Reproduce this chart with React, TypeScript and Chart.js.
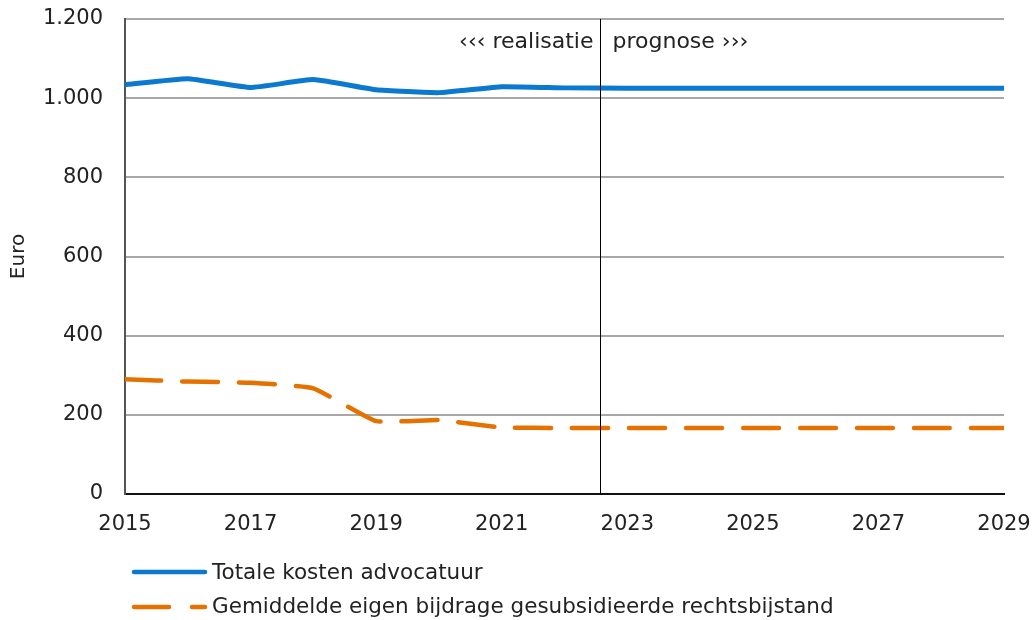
import React, { useEffect, useRef } from "react";
import { Chart, registerables } from "chart.js";

Chart.register(...registerables);

const years = [2015, 2016, 2017, 2018, 2019, 2020, 2021, 2022, 2023, 2024, 2025, 2026, 2027, 2028, 2029];
const totaleKosten = [1034, 1049, 1027, 1047, 1021, 1014, 1029, 1026, 1025, 1025, 1025, 1025, 1025, 1025, 1025];
const eigenBijdrage = [290, 284, 281, 267, 184, 187, 168, 167, 167, 167, 167, 167, 167, 167, 167];
const seriesLabels = ["Totale kosten advocatuur", "Gemiddelde eigen bijdrage gesubsidieerde rechtsbijstand"];
const dividerYear = 2022.56;
const leftNote = "\u2039\u2039\u2039 realisatie";
const rightNote = "prognose \u203A\u203A\u203A";
const yTitle = "Euro";

const BLUE = "#0a79cf";
const ORANGE = "#e57200";
const FONT = "'DejaVu Sans', Verdana, sans-serif";
const TEXT = "#222222";

const fmt = (v: number) => String(v).replace(/\B(?=(\d{3})+(?!\d))/g, ".");

const overlay = {
  id: "overlay",
  afterDatasetsDraw(chart: any) {
    const { ctx, chartArea, scales } = chart;
    const x = Math.round(scales.x.getPixelForValue(dividerYear)) + 0.5;
    ctx.save();
    ctx.strokeStyle = "#000";
    ctx.lineWidth = 1;
    ctx.beginPath();
    ctx.moveTo(x, chartArea.top);
    ctx.lineTo(x, chartArea.bottom);
    ctx.stroke();
    ctx.fillStyle = TEXT;
    ctx.font = `22px ${FONT}`;
    ctx.textBaseline = "middle";
    ctx.textAlign = "right";
    ctx.fillText(leftNote, x - 7, 42);
    ctx.textAlign = "left";
    ctx.fillText(rightNote, x + 12, 42);

    // legend
    const lx0 = 134;
    const lx1 = 205;
    const rows = [572, 607];
    ctx.lineCap = "round";
    ctx.lineWidth = 4.5;
    ctx.strokeStyle = BLUE;
    ctx.setLineDash([]);
    ctx.beginPath();
    ctx.moveTo(lx0, rows[0]);
    ctx.lineTo(lx1, rows[0]);
    ctx.stroke();
    ctx.strokeStyle = ORANGE;
    ctx.setLineDash([35, 23]);
    ctx.beginPath();
    ctx.moveTo(lx0, rows[1]);
    ctx.lineTo(lx1, rows[1]);
    ctx.stroke();
    ctx.setLineDash([]);
    ctx.fillStyle = TEXT;
    ctx.font = `21.5px ${FONT}`;
    ctx.textAlign = "left";
    ctx.fillText(seriesLabels[0], 212, rows[0] + 1);
    ctx.fillText(seriesLabels[1], 212, rows[1]);
    ctx.restore();
  },
};

export default function App() {
  const ref = useRef<HTMLCanvasElement | null>(null);
  useEffect(() => {
    if (!ref.current) return;
    const chart = new Chart(ref.current, {
      type: "line",
      data: {
        datasets: [
          {
            label: seriesLabels[0],
            data: years.map((y, i) => ({ x: y, y: totaleKosten[i] })),
            borderColor: BLUE,
            borderWidth: 5,
            pointRadius: 0,
            tension: 0.12,
            borderCapStyle: "round",
          },
          {
            label: seriesLabels[1],
            data: years.map((y, i) => ({ x: y, y: eigenBijdrage[i] })),
            borderColor: ORANGE,
            borderWidth: 4.5,
            borderDash: [36, 21],
            borderCapStyle: "round",
            pointRadius: 0,
            tension: 0.12,
          },
        ],
      },
      options: {
        animation: false,
        responsive: false,
        maintainAspectRatio: false,
        layout: { padding: { left: 0, right: 32, top: 19, bottom: 86 } },
        plugins: { legend: { display: false }, tooltip: { enabled: false } },
        scales: {
          x: {
            type: "linear",
            min: 2015,
            max: 2029,
            grid: { display: false, drawTicks: false },
            border: { color: "#111", width: 2 },
            ticks: {
              stepSize: 2,
              padding: 18,
              color: TEXT,
              font: { family: FONT, size: 21 },
              callback: (v: any) => String(v),
              maxRotation: 0,
              autoSkip: false,
            },
            afterFit: (s: any) => {
              s.height = 40;
              s.paddingLeft = 0;
              s.paddingRight = 0;
            },
          },
          y: {
            min: 0,
            max: 1200,
            grid: { color: "#a8a8a8", lineWidth: 2, drawTicks: false },
            border: { color: "#555", width: 2 },
            ticks: {
              stepSize: 200,
              padding: 22,
              color: TEXT,
              font: { family: FONT, size: 21 },
              callback: (v: any) => fmt(Number(v)),
            },
            title: {
              display: true,
              text: yTitle,
              color: TEXT,
              font: { family: FONT, size: 20 },
              padding: { top: 7, bottom: 0 },
            },
            afterFit: (s: any) => {
              s.width = 125;
              s.paddingTop = 0;
              s.paddingBottom = 0;
            },
          },
        },
      },
      plugins: [overlay],
    });
    return () => chart.destroy();
  }, []);
  return (
    <div style={{ position: "absolute", left: 0, top: 0, width: 1036, height: 620, background: "#fff" }}>
      <canvas ref={ref} width={1036} height={620} style={{ width: 1036, height: 620, display: "block" }} />
    </div>
  );
}
